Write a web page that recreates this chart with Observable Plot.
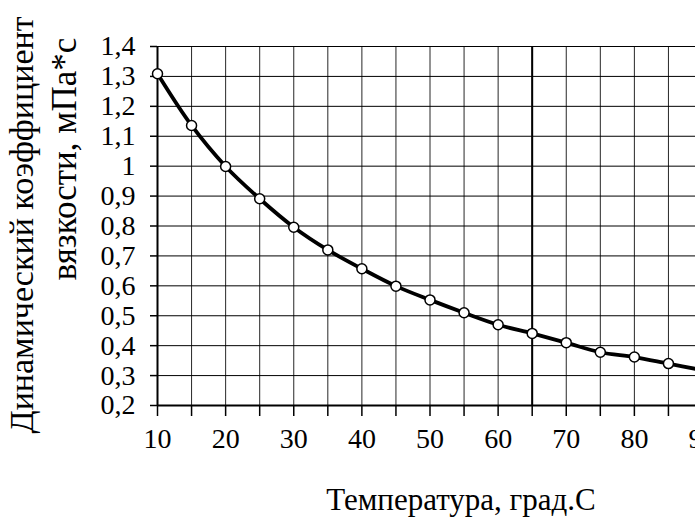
<!DOCTYPE html>
<html>
<head>
<meta charset="utf-8">
<script src="https://cdn.jsdelivr.net/npm/d3@7"></script>
<script src="https://cdn.jsdelivr.net/npm/@observablehq/plot@0.6"></script>
<style>
  html, body { margin: 0; padding: 0; background: #fff; overflow: hidden; }
  #wrap { position: relative; width: 695px; height: 518px; overflow: hidden; }
  .ttl { position: absolute; font-family: "Liberation Serif", "Times New Roman", serif; color: #000; white-space: nowrap; }
</style>
</head>
<body>
<div id="wrap"></div>
<script>
const temperature = [10, 15, 20, 25, 30, 35, 40, 45, 50, 55, 60, 65, 70, 75, 80, 85, 90];
const viscosity = [1.309, 1.136, 0.999, 0.891, 0.796, 0.72, 0.657, 0.599, 0.553, 0.51, 0.47, 0.441, 0.41, 0.378, 0.362, 0.34, 0.318];
const markerTemps = [10, 15, 20, 25, 30, 35, 40, 45, 50, 55, 60, 65, 70, 75, 80, 85];
const xTickLabels = [10, 20, 30, 40, 50, 60, 70, 80, 90];
const xGrid = [10, 15, 20, 25, 30, 35, 40, 45, 50, 55, 60, 65, 70, 75, 80, 85, 90];
const yTicks = [0.2, 0.3, 0.4, 0.5, 0.6, 0.7, 0.8, 0.9, 1.0, 1.1, 1.2, 1.3, 1.4];
const xTitle = "Температура, град.С";
const yTitle1 = "Динамический коэффициент";
const yTitle2 = "вязкости, мПа*с";

const data = temperature.map((t, i) => ({t, v: viscosity[i]}));
const markers = data.filter(d => markerTemps.includes(d.t));
const fmt = d => String(+d.toFixed(1)).replace(".", ",");
const font = '"Liberation Serif", "Times New Roman", serif';

const chart = Plot.plot({
  width: 695,
  height: 518,
  marginLeft: 157,
  marginTop: 46,
  marginBottom: 113,
  marginRight: -7,
  style: {fontFamily: font, color: "#000", background: "transparent", overflow: "visible"},
  x: {domain: [10, 90], label: null},
  y: {domain: [0.2, 1.4], label: null},
  marks: [
    Plot.gridX(xGrid, {stroke: "#000", strokeOpacity: 0.85, strokeWidth: 1}),
    Plot.gridX([65], {stroke: "#000", strokeOpacity: 1, strokeWidth: 2}),
    Plot.gridY(yTicks, {stroke: "#000", strokeOpacity: 1, strokeWidth: 1}),
    Plot.axisX(xGrid, {tickSize: 11, tickFormat: () => "", stroke: "#000", strokeWidth: 1.5}),
    Plot.axisY(yTicks, {tickSize: 7, tickFormat: () => "", stroke: "#000", strokeWidth: 1.5}),
    Plot.text(xTickLabels, {x: d => d, frameAnchor: "bottom", dy: 42, text: d => String(d), fontSize: 28, fontFamily: font, fill: "#000"}),
    Plot.text(yTicks, {y: d => d, frameAnchor: "left", dx: -22, textAnchor: "end", text: fmt, fontSize: 28, fontFamily: font, fill: "#000"}),
    Plot.ruleX([10], {stroke: "#000", strokeWidth: 2}),
    Plot.ruleY([0.2], {stroke: "#000", strokeWidth: 2}),
    Plot.line(data, {x: "t", y: "v", stroke: "#000", strokeWidth: 3.8, curve: "catmull-rom"}),
    Plot.dot(markers, {x: "t", y: "v", r: 5, fill: "#fff", stroke: "#000", strokeWidth: 1.5})
  ]
});

const wrap = document.getElementById("wrap");
wrap.appendChild(chart);

function title(text, cx, cy, size, rotate) {
  const el = document.createElement("div");
  el.className = "ttl";
  el.textContent = text;
  el.style.fontSize = size + "px";
  el.style.left = cx + "px";
  el.style.top = cy + "px";
  el.style.transform = "translate(-50%,-50%)" + (rotate ? " rotate(-90deg)" : "");
  wrap.appendChild(el);
}
title(xTitle, 461, 500, 31, false);
title(yTitle1, 22, 225, 34, true);
title(yTitle2, 65, 159, 35, true);
</script>
</body>
</html>
